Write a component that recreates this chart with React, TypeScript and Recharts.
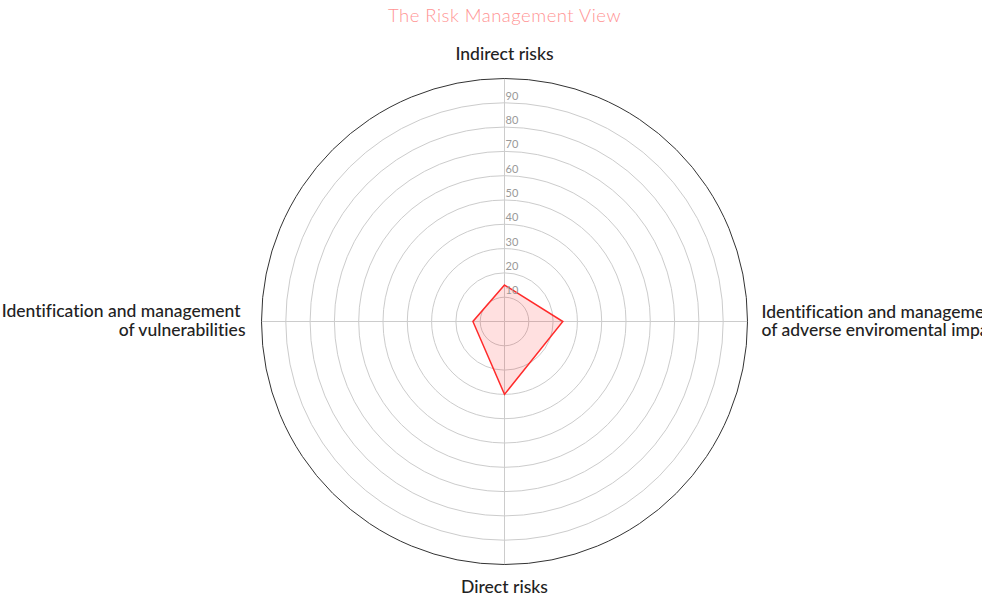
import { RadarChart, Radar, PolarGrid, PolarAngleAxis, PolarRadiusAxis } from "recharts"

const categories = [
  "Indirect risks",
  "Identification and management of adverse enviromental impacts",
  "Direct risks",
  "Identification and management of vulnerabilities",
]
const scores = [15, 24, 30, 13]
const radiusTicks = [10, 20, 30, 40, 50, 60, 70, 80, 90]

const W = 982
const H = 603
const CX = 504.5
const CY = 321.5
const R = 243
const FONT = "Lato, 'Noto Sans', sans-serif"

const data = categories.map((name, i) => ({ name, score: scores[i] }))

// axis labels: long names are split over two lines
const AngleTick = ({ payload, index }: any) => {
  const style = {
    fontFamily: FONT,
    fontSize: 17.5,
    fontWeight: 500,
    fill: "#222",
    fontVariantLigatures: "none" as const,
  }
  const value: string = payload.value
  if (index === 0) {
    return <text x={CX} y={CY - 262} textAnchor="middle" style={style}>{value}</text>
  }
  if (index === 2) {
    return <text x={CX} y={CY + 271} textAnchor="middle" style={style}>{value}</text>
  }
  const words = value.split(" ")
  const first = words.slice(0, 3).join(" ")
  const rest = words.slice(3).join(" ")
  if (index === 1) {
    return (
      <text textAnchor="start" style={style}>
        <tspan x={CX + 257} y={CY - 4}>{first}</tspan>
        <tspan x={CX + 257} y={CY + 14}>{rest}</tspan>
      </text>
    )
  }
  return (
    <text textAnchor="end" style={style}>
      <tspan x={CX - 264} y={CY - 5}>{first}</tspan>
      <tspan x={CX - 259} y={CY + 14}>{rest}</tspan>
    </text>
  )
}

const RadiusTick = ({ x, y, payload }: any) => (
  <text x={x + 1} y={y - 3} textAnchor="start" style={{ fontFamily: FONT, fontSize: 11, fill: "#999" }}>
    {payload.value}
  </text>
)

export default function App() {
  return (
    <div style={{ position: "absolute", left: 0, top: 0, width: W, height: H, background: "#fff", overflow: "hidden" }}>
      <div
        style={{
          position: "absolute",
          top: 4,
          left: 0,
          width: 2 * CX,
          textAlign: "center",
          fontFamily: FONT,
          fontWeight: 300,
          fontSize: 18.5,
          color: "#ff9494",
          letterSpacing: 0.5,
        }}
      >
        The Risk Management View
      </div>
      <RadarChart
        width={W}
        height={H}
        data={data}
        cx={CX}
        cy={CY}
        outerRadius={R}
        margin={{ top: 0, right: 0, bottom: 0, left: 0 }}
      >
        <PolarGrid gridType="circle" stroke="#cccccc" polarRadius={radiusTicks.map((t) => (R * t) / 100)} />
        <PolarGrid gridType="circle" stroke="#333333" radialLines={false} polarRadius={[R]} />
        <PolarAngleAxis dataKey="name" tick={<AngleTick />} tickLine={false} axisLine={false} />
        <PolarRadiusAxis
          angle={90}
          domain={[0, 100]}
          ticks={radiusTicks}
          tick={<RadiusTick />}
          axisLine={false}
          tickLine={false}
        />
        <Radar
          dataKey="score"
          stroke="#ff2b2b"
          strokeWidth={1.5}
          fill="#ff0000"
          fillOpacity={0.12}
          isAnimationActive={false}
        />
      </RadarChart>
    </div>
  )
}
